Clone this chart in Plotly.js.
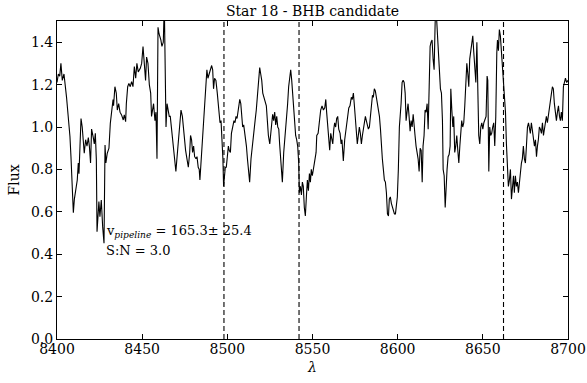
<!DOCTYPE html>
<html>
<head>
<meta charset="utf-8">
<script src="https://cdn.plot.ly/plotly-3.0.1.min.js"></script>
<style>html,body{margin:0;padding:0;background:#fff;}#chart{width:587px;height:383px;}</style>
</head>
<body>
<div id="chart"></div>
<script>
// Wavelength (Angstrom) and normalised flux
const wavelength = [
8400.0,8400.8,8401.6,8402.3,8403.1,8404.1,8405.6,8406.6,8407.6,8408.2,8409.0,8409.6,8410.2,8411.1,8411.9,8412.5,8412.9,8413.5,8414.1,8414.8,
8415.4,8416.0,8416.8,8417.6,8418.4,8419.0,8419.7,8420.3,8421.3,8421.9,8422.5,8423.1,8423.5,8424.0,8424.6,8425.2,8426.0,8426.8,8427.6,8428.2,
8428.7,8429.5,8430.5,8431.3,8432.1,8432.9,8433.2,8434.0,8434.8,8435.4,8436.2,8437.0,8437.9,8438.9,8439.5,8440.3,8440.7,8441.5,8442.2,8443.0,
8443.8,8444.6,8445.4,8446.2,8446.9,8447.7,8448.9,8449.7,8450.5,8451.2,
8452.0,8452.6,8453.4,8454.2,8455.0,8455.5,8456.1,8456.7,8457.5,8458.1,8458.7,8459.3,8459.9,8460.4,8461.0,8461.6,8462.4,8463.0,8463.4,8464.0,
8464.6,8465.1,8465.9,8466.5,8467.1,8467.7,8468.3,8469.1,8469.8,8470.4,8471.2,8472.0,8472.8,8473.6,8474.1,8474.9,8475.5,8476.3,8477.1,8477.9,
8478.4,8479.0,8479.6,8480.2,8480.8,8481.6,8482.2,8482.9,8483.5,8483.9,8484.5,8485.1,8485.9,8486.7,8487.4,8488.0,8488.6,8489.4,8490.2,8490.8,
8491.4,8491.9,8492.5,8493.3,8494.1,8494.9,8495.7,8496.3,8496.8,8497.4,8497.8,8498.2,8498.8,8499.4,8500.0,8500.6,8501.1,
8501.8,8502.4,8502.8,8503.3,8503.9,8504.5,8505.1,8505.7,8506.5,8507.3,8507.9,8508.4,8509.0,8509.6,8510.4,8511.2,8511.8,8512.3,8513.1,8513.9,
8514.7,8515.5,8516.3,8517.0,8517.6,8518.2,8519.0,8519.6,8520.2,8520.8,8521.5,8522.3,8522.9,8523.5,8524.1,8524.9,8525.5,8526.05,8526.6,8527.2,
8527.8,8528.4,8529.0,8529.6,8530.2,8530.7,8531.5,8532.3,8533.1,8533.9,8534.7,8535.4,8536.0,8536.6,8537.2,8537.8,8538.4,8539.0,8539.55,8540.1,
8540.7,8541.3,8541.9,8542.3,8542.9,8543.5,8544.05,8544.6,8545.2,8545.8,8546.4,8547.0,8547.6,8548.2,8548.75,8549.3,8549.9,8550.5,8551.1,
8552.1,8552.5,8553.3,8554.0,8554.8,8555.6,8556.4,8557.2,8557.8,8558.3,8558.9,8559.5,8560.1,8560.7,8561.3,8561.9,8562.5,8563.0,8563.6,8564.2,
8564.8,8565.4,8566.2,8566.8,8567.3,8568.1,8568.9,8569.7,8570.5,8571.3,8572.0,8572.8,8573.4,8574.0,8574.6,8575.2,8575.8,8576.3,8576.9,8577.5,
8578.1,8578.7,8579.3,8579.9,8580.5,8581.05,8581.6,8582.2,8582.8,8583.4,8584.0,8584.6,8585.2,8585.7,8586.3,8586.9,8587.5,8588.1,8588.7,8589.3,
8589.9,8590.4,8591.0,8591.6,8592.2,8592.8,8593.4,8594.0,8594.6,8595.1,8595.7,8596.3,8596.9,8597.5,8598.1,8598.7,8599.2,8599.8,8600.4,8601.0,
8602.0,8602.6,8603.2,8603.8,8604.4,8604.95,8605.5,8606.1,8606.7,8607.3,8607.9,8608.5,8609.1,8609.7,8610.2,8610.8,8611.4,8612.0,8612.6,8613.2,
8613.8,8614.4,8614.9,8615.5,8616.1,8616.7,8617.3,8617.9,8618.5,8619.05,8619.6,8620.2,8620.8,8621.4,8622.0,8622.4,8622.8,8623.4,8623.9,8624.5,
8625.1,8625.7,8626.3,8626.7,8627.3,8627.9,8628.4,8629.0,8629.6,8630.2,8630.8,8631.2,8631.8,8632.4,8632.9,8633.5,8634.1,8634.7,8635.3,8635.9,
8636.5,8637.1,8637.6,8638.2,8638.8,8639.4,8640.0,8640.6,8641.2,8641.75,8642.3,8642.9,8643.5,8644.1,8644.7,8645.3,8645.9,8646.5,8647.0,8647.6,
8648.2,8648.8,8649.4,8650.0,8650.6,8651.1,
8651.9,8652.5,8652.9,8653.5,8654.05,8654.6,8655.2,8655.8,8656.4,8657.0,8657.6,8658.2,8658.6,8659.15,8659.7,8660.3,8660.9,8661.5,8662.1,8662.7,
8663.3,8663.85,8664.4,8665.0,8665.6,8666.2,8666.8,8667.4,8668.0,8668.5,8669.1,8669.7,8670.3,8670.9,8671.5,8672.1,8672.65,8673.2,8673.8,8674.4,
8675.0,8675.6,8676.2,8676.8,8677.35,8677.9,8678.5,8679.1,8679.7,8680.3,8680.9,8681.5,8682.05,8682.6,8683.2,8683.8,8684.4,8685.0,8685.6,8686.2,
8686.75,8687.3,8687.9,8688.5,8689.1,8689.7,8690.3,8690.85,8691.4,8692.0,8692.6,8693.2,8693.8,8694.4,8695.0,8695.55,8696.1,8696.7,8697.3,8697.9,
8698.5,8699.2,8700.0
];
const flux = [
1.21,1.25,1.24,1.30,1.22,1.25,1.14,1.05,0.955,0.86,0.72,0.596,0.66,0.72,0.75,0.83,0.78,0.91,1.04,1.00,
0.94,0.876,0.94,0.91,0.95,0.91,0.83,0.99,0.95,0.92,0.97,0.845,0.506,0.577,0.648,0.577,0.656,0.53,0.452,0.915,
0.83,0.876,0.90,1.017,1.08,1.13,1.10,1.19,1.16,1.08,1.11,1.07,1.057,1.033,1.057,1.025,1.11,1.19,1.206,1.19,
1.214,1.19,1.285,1.23,1.30,1.26,1.277,1.30,1.38,1.30,
1.22,1.33,1.30,1.20,1.16,1.05,1.08,1.11,1.03,1.07,0.85,1.47,1.44,1.43,1.41,1.38,1.40,1.58,1.35,1.00,
1.11,1.08,1.05,1.05,1.00,0.96,0.88,0.83,0.79,0.85,0.94,1.02,1.08,1.05,1.00,0.96,0.89,0.85,0.81,0.88,
0.96,0.94,0.88,0.91,0.86,0.85,0.86,0.81,0.80,0.75,0.83,0.91,0.96,1.10,1.18,1.27,1.23,1.25,1.27,1.29,
1.27,1.18,1.23,1.22,1.16,1.10,1.02,1.03,0.96,0.85,0.72,0.77,0.81,0.81,0.88,0.91,0.89,
0.88,0.97,0.99,1.00,1.03,1.02,1.05,1.04,1.08,1.13,1.11,1.07,1.00,1.01,0.97,0.91,0.85,0.81,0.74,0.85,
0.92,0.99,1.03,1.08,1.14,1.21,1.28,1.25,1.22,1.16,1.14,1.13,1.10,1.03,0.96,0.92,0.97,1.02,1.06,1.03,
1.07,1.01,1.05,1.00,0.99,0.92,0.81,0.74,0.88,0.96,1.00,1.11,1.19,1.25,1.27,1.22,1.14,1.07,1.00,0.96,
0.94,0.91,0.83,0.69,0.72,0.68,0.74,0.72,0.62,0.58,0.67,0.75,0.70,0.78,0.74,0.80,0.77,0.81,0.83,
0.88,0.96,0.97,1.03,1.08,1.10,1.08,1.09,1.13,1.07,1.02,0.96,0.89,0.97,0.94,0.92,0.99,1.02,1.00,1.04,
1.05,0.99,0.97,0.92,0.94,0.84,0.94,0.99,1.05,1.09,1.10,1.14,1.13,1.16,1.10,1.03,0.94,0.92,0.96,1.00,
0.97,0.92,0.96,1.00,1.02,1.05,1.03,1.00,0.99,1.00,1.05,1.13,1.15,1.14,1.18,1.17,1.14,1.11,1.08,1.05,
0.99,0.91,0.85,0.80,0.75,0.74,0.69,0.59,0.58,0.66,0.67,0.64,0.62,0.61,0.59,0.59,0.65,0.67,0.80,1.00,
1.11,1.21,1.22,1.21,1.16,1.03,1.07,1.11,1.05,0.98,1.03,1.00,1.06,1.02,0.96,0.91,0.88,0.85,0.79,0.90,
0.89,0.74,0.91,0.96,1.08,1.07,1.11,0.99,1.19,1.38,1.40,1.41,1.32,1.27,1.49,1.56,1.52,1.43,1.32,1.25,
1.18,1.16,1.03,0.80,0.77,0.62,0.74,0.80,0.86,0.87,0.91,1.18,1.08,1.00,1.05,0.88,0.91,0.96,0.89,0.83,
0.91,0.97,1.03,1.00,1.02,1.10,1.19,1.30,1.25,1.19,1.32,1.36,1.40,1.43,1.35,1.27,1.21,1.40,1.19,0.96,
0.92,1.00,1.02,0.99,1.02,1.03,
1.05,1.24,1.22,0.79,1.00,0.96,0.97,1.00,1.02,0.91,1.05,1.35,1.41,1.36,1.46,1.43,1.35,1.29,1.24,1.11,
1.07,0.92,0.83,0.72,0.75,0.80,0.66,0.74,0.77,0.69,0.77,0.72,0.74,0.69,0.75,0.78,0.83,0.85,0.91,0.85,
0.83,0.91,1.00,1.02,0.99,0.97,1.02,0.99,0.94,0.91,0.94,0.86,0.91,0.94,1.00,0.99,0.97,1.02,0.96,0.99,
1.03,1.05,1.02,1.05,1.10,1.11,1.16,1.19,1.18,1.11,1.08,1.03,1.07,1.10,1.05,1.03,1.07,1.03,1.19,1.22,
1.23,1.21,1.22
];
// Ca II triplet rest wavelengths (dashed markers)
const caLines = [8498.02, 8542.09, 8662.14];
const fluxRange = [0, 1.5];
const titleText = 'Star 18 - BHB candidate';
const velText = 'v<sub><i>pipeline</i></sub> = 165.3± 25.4';
const snText = 'S:N = 3.0';

const serif = 'DejaVu Serif, Liberation Serif, serif';
const traces = [{
  x: wavelength, y: flux, type: 'scatter', mode: 'lines',
  line: {color: 'black', width: 1.1}, hoverinfo: 'skip', showlegend: false
}];
caLines.forEach(w => traces.push({
  x: [w, w], y: fluxRange, type: 'scatter', mode: 'lines',
  line: {color: 'black', width: 1.1, dash: '5px,3px'}, hoverinfo: 'skip', showlegend: false
}));

const axisCommon = {
  showline: true, linecolor: 'black', linewidth: 1, mirror: 'ticks',
  ticks: 'inside', ticklen: 5, tickwidth: 1, tickcolor: 'black',
  showgrid: false, zeroline: false,
  tickfont: {family: serif, size: 14, color: 'black'}
};

const layout = {
  width: 587, height: 383,
  margin: {l: 57, r: 19, t: 21, b: 44},
  paper_bgcolor: 'white', plot_bgcolor: 'white',
  font: {family: serif, color: 'black'},
  title: {text: titleText, font: {family: serif, size: 14, color: 'black'},
          x: 0.5, xref: 'paper', xanchor: 'center', y: 0.971, yref: 'container', yanchor: 'middle'},
  xaxis: Object.assign({}, axisCommon, {
    range: [8400, 8700], dtick: 50, tick0: 8400, tickformat: 'd', ticklabelstandoff: -3,
    title: {text: '<i>λ</i>', font: {family: serif, size: 14, color: 'black'}, standoff: 6}
  }),
  yaxis: Object.assign({}, axisCommon, {
    range: fluxRange, dtick: 0.2, tick0: 0, tickformat: '.1f',
    title: {text: 'Flux', font: {family: serif, size: 14, color: 'black'}, standoff: 8}
  }),
  annotations: [
    {x: 8427.4, y: 0.506, xref: 'x', yref: 'y', text: velText, showarrow: false,
     xanchor: 'left', yanchor: 'middle', font: {family: serif, size: 13, color: 'black'}},
    {x: 8427.4, y: 0.416, xref: 'x', yref: 'y', text: snText, showarrow: false,
     xanchor: 'left', yanchor: 'middle', font: {family: serif, size: 13, color: 'black'}}
  ]
};
Plotly.newPlot('chart', traces, layout, {displayModeBar: false, staticPlot: true});
</script>
</body>
</html>
